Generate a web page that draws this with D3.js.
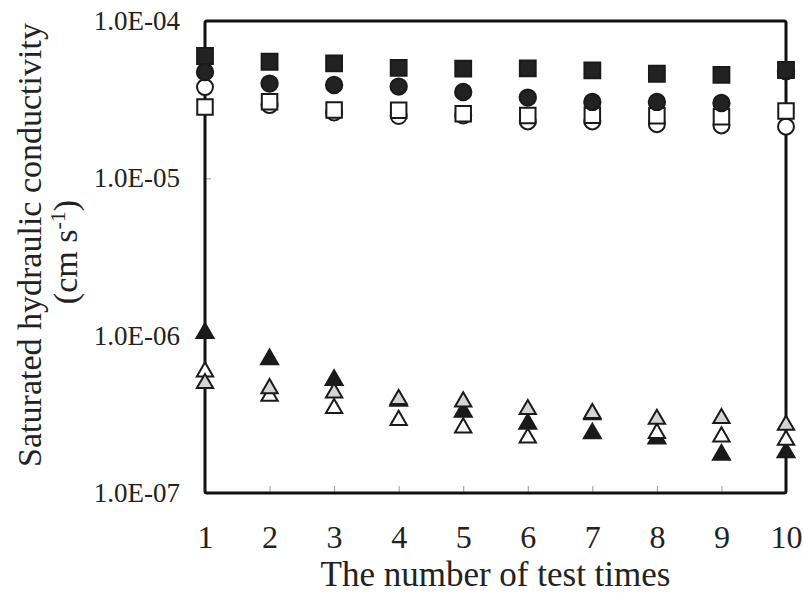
<!DOCTYPE html>
<html>
<head>
<meta charset="utf-8">
<script src="https://cdn.jsdelivr.net/npm/d3@7"></script>
<style>
  body { margin: 0; background: #fff; }
  svg { display: block; font-family: "Liberation Serif", "Times New Roman", serif; }
</style>
</head>
<body>
<div id="chart"></div>
<script>
const testTimes = [1, 2, 3, 4, 5, 6, 7, 8, 9, 10];
const yTickValues = [1e-4, 1e-5, 1e-6, 1e-7];
const yTickLabels = ['1.0E-04', '1.0E-05', '1.0E-06', '1.0E-07'];

// upper group
const filledSquare = [5.99e-5, 5.51e-5, 5.38e-5, 5.03e-5, 4.98e-5, 5.0e-5, 4.86e-5, 4.62e-5, 4.54e-5, 4.88e-5];
const filledCircle = [4.74e-5, 4.0e-5, 3.92e-5, 3.83e-5, 3.54e-5, 3.26e-5, 3.06e-5, 3.06e-5, 3.01e-5, 4.8e-5];
const openCircle = [3.8e-5, 2.92e-5, 2.62e-5, 2.49e-5, 2.51e-5, 2.3e-5, 2.3e-5, 2.21e-5, 2.17e-5, 2.13e-5];
const openSquare = [2.84e-5, 3.07e-5, 2.72e-5, 2.71e-5, 2.57e-5, 2.51e-5, 2.52e-5, 2.5e-5, 2.46e-5, 2.68e-5];

// lower group
const filledTriangle = [1.04e-6, 7.07e-7, 5.22e-7, 3.85e-7, 3.28e-7, 2.75e-7, 2.39e-7, 2.22e-7, 1.75e-7, 1.81e-7];
const whiteTriangle = [5.9e-7, 4.13e-7, 3.45e-7, 2.9e-7, 2.6e-7, 2.24e-7, 3.15e-7, 2.4e-7, 2.28e-7, 2.17e-7];
const greyTriangle = [4.98e-7, 4.62e-7, 4.34e-7, 3.94e-7, 3.8e-7, 3.4e-7, 3.21e-7, 2.95e-7, 2.98e-7, 2.7e-7];

const width = 803, height = 593;
const x = d3.scaleLinear().domain([1, 10]).range([205, 786]);
const y = d3.scaleLog().domain([1e-7, 1e-4]).range([493, 21]);

const svg = d3.select('#chart').append('svg')
  .attr('width', width)
  .attr('height', height);

// inner ticks
const xAxis = svg.append('g')
  .attr('transform', `translate(0,${y.range()[0]})`)
  .call(d3.axisBottom(x).tickValues(testTimes).tickSizeInner(-7).tickSizeOuter(0).tickPadding(0));
xAxis.select('.domain').remove();
xAxis.selectAll('.tick line').attr('stroke', '#999').attr('stroke-width', 1);
xAxis.selectAll('.tick text')
  .attr('y', 55)
  .attr('dy', 0)
  .attr('font-size', 32)
  .attr('font-family', '"Liberation Serif", serif')
  .attr('fill', '#222');

const yAxis = svg.append('g')
  .attr('transform', `translate(${x.range()[0]},0)`)
  .call(d3.axisLeft(y).tickValues(yTickValues).tickFormat((d, i) => yTickLabels[i])
    .tickSizeInner(-6).tickSizeOuter(0).tickPadding(25));
yAxis.select('.domain').remove();
yAxis.selectAll('.tick line').attr('stroke', '#999').attr('stroke-width', 1);
yAxis.selectAll('.tick text')
  .attr('dy', '0.32em')
  .attr('font-size', 27)
  .attr('font-family', '"Liberation Serif", serif')
  .attr('fill', '#222');

// frame
svg.append('rect')
  .attr('x', x.range()[0])
  .attr('y', y.range()[1])
  .attr('width', x.range()[1] - x.range()[0])
  .attr('height', y.range()[0] - y.range()[1])
  .attr('fill', 'none')
  .attr('stroke', '#111')
  .attr('stroke-width', 3)
  .attr('rx', 2);

// markers
const series = [
  { values: openCircle, type: d3.symbolCircle, size: 200, fill: '#fff' },
  { values: openSquare, type: d3.symbolSquare, size: 240, fill: '#fff' },
  { values: filledCircle, type: d3.symbolCircle, size: 210, fill: '#222' },
  { values: filledSquare, type: d3.symbolSquare, size: 250, fill: '#222' },
  { values: filledTriangle, type: d3.symbolTriangle, size: 125, fill: '#1a1a1a' },
  { values: whiteTriangle, type: d3.symbolTriangle, size: 115, fill: '#fff' },
  { values: greyTriangle, type: d3.symbolTriangle, size: 115, fill: '#d4d4d4' }
];

series.forEach(s => {
  svg.append('g')
    .selectAll('path')
    .data(s.values)
    .join('path')
      .attr('transform', (d, i) => `translate(${x(testTimes[i])},${y(d)})`)
      .attr('d', d3.symbol().type(s.type).size(s.size))
      .attr('fill', s.fill)
      .attr('stroke', '#1a1a1a')
      .attr('stroke-width', 2);
});

// axis titles
svg.append('text')
  .attr('x', (x.range()[0] + x.range()[1]) / 2)
  .attr('y', 586)
  .attr('text-anchor', 'middle')
  .attr('font-size', 35)
  .attr('fill', '#222')
  .text('The number of test times');

const yTitle = svg.append('text')
  .attr('transform', 'translate(0,245) rotate(-90)')
  .attr('text-anchor', 'middle')
  .attr('font-size', 34)
  .attr('fill', '#222');
yTitle.append('tspan')
  .attr('x', 0)
  .attr('y', 41)
  .text('Saturated hydraulic conductivity');
yTitle.append('tspan')
  .attr('x', -7)
  .attr('y', 77)
  .text('(cm s');
yTitle.append('tspan')
  .attr('dy', -12)
  .attr('font-size', 22)
  .text('-1');
yTitle.append('tspan')
  .attr('dy', 12)
  .text(')');
</script>
</body>
</html>
